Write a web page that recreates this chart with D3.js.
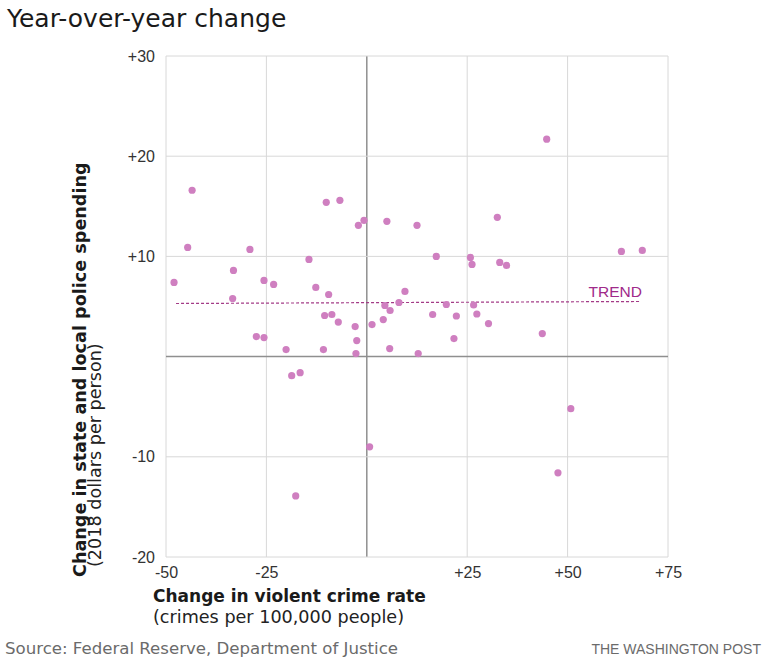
<!DOCTYPE html>
<html>
<head>
<meta charset="utf-8">
<script src="https://cdn.jsdelivr.net/npm/d3@7"></script>
<style>
  html, body { margin: 0; padding: 0; background: #fff; }
  svg { display: block; font-family: "Liberation Sans", Arial, sans-serif; }
</style>
</head>
<body>
<div id="chart"></div>
<script>
// Change in violent crime rate (crimes per 100,000 people)
const crimeChange = [-48.0, -44.6, -43.5, -33.2, -33.4, -29.1, -25.6, -23.2, -27.5, -25.6,
  -20.1, -18.7, -16.6, -17.7, -14.4, -12.7, -10.1, -6.7, -9.5, -10.5,
  -8.7, -7.1, -10.8, -2.9, -2.5, -2.7, -2.1, -0.7, 0.7, 5.0,
  12.5, 32.5, 17.3, 25.8, 26.2, 33.1, 34.8, 9.5, 8.0, 4.5,
  5.8, 19.8, 26.6, 16.4, 22.3, 27.4, 30.3, 4.1, 1.3, 5.7,
  12.8, 21.7, 43.7, 44.8, 63.4, 68.6, 50.8, 47.6];
// Change in state and local police spending (2018 dollars per person)
const spendingChange = [7.4, 10.9, 16.6, 8.6, 5.8, 10.7, 7.6, 7.2, 2.0, 1.9,
  0.7, -1.9, -1.6, -13.9, 9.7, 6.9, 15.4, 15.6, 6.2, 4.1,
  4.2, 3.45, 0.7, 3.0, 1.6, 0.3, 13.1, 13.6, -9.0, 13.5,
  13.1, 13.9, 10.0, 9.9, 9.2, 9.4, 9.1, 6.5, 5.4, 5.1,
  4.6, 5.2, 5.15, 4.2, 4.05, 4.25, 3.3, 3.7, 3.2, 0.8,
  0.3, 1.8, 2.3, 21.7, 10.5, 10.6, -5.2, -11.6];
// Trend line endpoints
const trendX = [-47.5, 68];
const trendY = [5.3, 5.5];
// Ticks
const xTicks = [-50, -25, 0, 25, 50, 75];
const xTickLabels = ["-50", "-25", "", "+25", "+50", "+75"];
const yTicks = [30, 20, 10, 0, -10, -20];
const yTickLabels = ["+30", "+20", "+10", "", "-10", "-20"];

const W = 767, H = 662;
const m = { left: 166, top: 56, right: 99, bottom: 105 };
const iw = W - m.left - m.right, ih = H - m.top - m.bottom;
const wide = "'DejaVu Sans', Verdana, sans-serif";

const svg = d3.select("#chart").append("svg").attr("width", W).attr("height", H);

const x = d3.scaleLinear().domain([-50, 75]).range([m.left, m.left + iw]);
const y = d3.scaleLinear().domain([-20, 30]).range([m.top + ih, m.top]);

// Title
svg.append("text").attr("x", 7).attr("y", 27)
  .attr("font-size", 25).attr("fill", "#1a1a1a")
  .style("font-family", wide)
  .text("Year-over-year change");

// Grid
const g = svg.append("g");
g.selectAll(".vg").data(xTicks).join("line")
  .attr("x1", d => x(d)).attr("x2", d => x(d))
  .attr("y1", m.top).attr("y2", m.top + ih)
  .attr("stroke", d => d === 0 ? "#8f8f8f" : "#d8d8d8")
  .attr("stroke-width", d => d === 0 ? 1.5 : 1);
g.selectAll(".hg").data(yTicks).join("line")
  .attr("x1", m.left).attr("x2", m.left + iw)
  .attr("y1", d => y(d)).attr("y2", d => y(d))
  .attr("stroke", d => d === 0 ? "#8f8f8f" : "#d8d8d8")
  .attr("stroke-width", d => d === 0 ? 1.5 : 1);

// Axes (labels only)
const xAxis = d3.axisBottom(x).tickValues(xTicks)
  .tickFormat((d, i) => xTickLabels[i]).tickSize(0).tickPadding(0);
const xa = svg.append("g").attr("transform", `translate(0,${m.top + ih + 10})`).call(xAxis);
xa.select(".domain").remove();
xa.selectAll("text").attr("font-size", 16).attr("fill", "#333")
  .style("font-family", "'Liberation Sans', Arial, sans-serif").attr("dy", "0.71em");

const yAxis = d3.axisLeft(y).tickValues(yTicks)
  .tickFormat((d, i) => yTickLabels[i]).tickSize(0).tickPadding(11);
const ya = svg.append("g").attr("transform", `translate(${m.left},0)`).call(yAxis);
ya.select(".domain").remove();
ya.selectAll("text").attr("font-size", 16).attr("fill", "#333")
  .style("font-family", "'Liberation Sans', Arial, sans-serif");

// Trend line
svg.append("line")
  .attr("x1", x(trendX[0])).attr("x2", x(trendX[1]))
  .attr("y1", y(trendY[0])).attr("y2", y(trendY[1]))
  .attr("stroke", "#a33a86").attr("stroke-width", 1.2)
  .attr("stroke-dasharray", "3,2");
svg.append("text")
  .attr("x", x(trendX[1]) + 2).attr("y", y(trendY[1]) - 4.5)
  .attr("text-anchor", "end").attr("font-size", 15.5).attr("fill", "#a02a8a")
  .text("TREND");

// Points
const pts = crimeChange.map((v, i) => ({ x: v, y: spendingChange[i] }));
svg.append("g").selectAll("circle").data(pts).join("circle")
  .attr("cx", d => x(d.x)).attr("cy", d => y(d.y))
  .attr("r", 3.6).attr("fill", "#cf7fc0");

// X axis title
svg.append("text").attr("x", 153).attr("y", 602)
  .attr("font-size", 17).attr("font-weight", "bold").attr("fill", "#1a1a1a")
  .style("font-family", wide)
  .text("Change in violent crime rate");
svg.append("text").attr("x", 153).attr("y", 623)
  .attr("font-size", 17.6).attr("fill", "#222")
  .style("font-family", wide)
  .text("(crimes per 100,000 people)");

// Y axis title
svg.append("text").attr("transform", "translate(86,577) rotate(-90)")
  .attr("font-size", 17.6).attr("font-weight", "bold").attr("fill", "#1a1a1a")
  .style("font-family", wide)
  .text("Change in state and local police spending");
svg.append("text").attr("transform", "translate(101,567) rotate(-90)")
  .attr("font-size", 17.6).attr("fill", "#222")
  .style("font-family", wide)
  .text("(2018 dollars per person)");

// Footer
svg.append("text").attr("x", 5).attr("y", 654)
  .attr("font-size", 16.6).attr("fill", "#6b6b6b")
  .style("font-family", wide)
  .text("Source: Federal Reserve, Department of Justice");
svg.append("text").attr("x", 761).attr("y", 654).attr("text-anchor", "end")
  .attr("font-size", 14).attr("fill", "#6b6b6b")
  .text("THE WASHINGTON POST");
</script>
</body>
</html>
